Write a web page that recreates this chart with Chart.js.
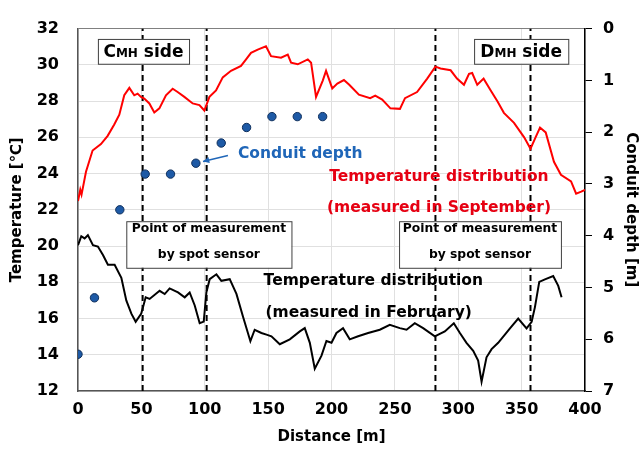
<!DOCTYPE html>
<html lang="en">
<head>
<meta charset="UTF-8">
<title>Temperature distribution along the conduit</title>
<script src="https://cdn.jsdelivr.net/npm/chart.js"></script>
<style>
  body { margin: 0; background: #fff; }
  #wrap { width: 640px; height: 450px; }
</style>
</head>
<body>
<div id="wrap"><canvas id="tempChart" width="640" height="450"></canvas></div>
<script>
// Temperature measured in September (red)
const septDist = [0, 1.8, 2.8, 6.3, 11.5, 18.1, 23.4, 28.6, 32.6, 36.5, 40.5, 44.4, 47, 49.7, 52.3, 56.3, 60.2, 64.2,
  69.4, 74.7, 78.6, 83.9, 90.5, 95.8, 99.7, 103.7, 108.9, 114.2, 120.7, 128.6, 132.6, 136.5, 141.8, 148.3, 152.3,
  160.2, 165.5, 168.1, 173.4, 181.3, 183.9, 187.8, 193.1, 195.7, 200.6, 204.6, 209.8, 214, 221.6, 230.5, 234.5, 240,
  246.5, 254, 258, 267.5, 275.5, 282, 286, 294, 299, 304.5, 308.5, 311, 315, 320, 325.5, 331, 336, 344, 352, 357, 361,
  364.5, 369, 375.5, 381, 389, 393, 397, 400];
const septTemp = [22.48, 23.11, 22.84, 24.1, 25.27, 25.63, 26.08, 26.71, 27.25, 28.32, 28.73, 28.32, 28.41, 28.23, 28.14, 27.87, 27.37, 27.6,
  28.32, 28.68, 28.5, 28.23, 27.87, 27.78, 27.48, 28.23, 28.59, 29.31, 29.67, 29.94, 30.3, 30.66, 30.84, 31.02, 30.48,
  30.39, 30.57, 30.12, 30.03, 30.3, 30.12, 28.23, 29.13, 29.67, 28.7, 28.97, 29.16, 28.9, 28.35, 28.16, 28.3, 28.08,
  27.6, 27.57, 28.16, 28.5, 29.24, 29.9, 29.8, 29.7, 29.24, 28.9, 29.5, 29.55, 28.9, 29.24, 28.6, 27.98, 27.35, 26.8, 26.0, 25.37, 26.0,
  26.54, 26.27, 24.65, 23.93, 23.57, 22.89, 23.0, 23.1];

// Temperature measured in February (black)
const febDist = [0, 2.6, 5.2, 7.8, 11.8, 15.7, 19.7, 23.6, 28.9, 34.2, 38.1, 42.1, 45.5, 49.9, 53.4, 56.5, 64.4, 68.4, 72.3,
  78.9, 84.2, 88.1, 92.1, 96, 99.2, 101.3, 103.9, 109.2, 113.1, 119.7, 125, 130.2, 136, 139.4, 144.7, 148.7, 152.6,
  159.2, 167.1, 175, 178.9, 182.9, 186.8, 192.1, 196, 200, 203.9, 209.1, 214.4, 221, 228.9, 238.1, 246, 253.9, 259.2,
  265.7, 272.3, 281.5, 289.4, 296.5, 301.3, 306.5, 311.8, 315.7, 318.4, 322.3, 326.3, 331.5, 340.8, 347.3, 353.9,
  357.9, 360.5, 363.9, 368.4, 374.9, 378.9, 381.5];
const febTemp = [20.05, 20.54, 20.42, 20.6, 20.05, 19.97, 19.5, 18.97, 18.97, 18.25, 17.0, 16.27, 15.82, 16.27, 17.17, 17.08, 17.53, 17.35, 17.66,
  17.44, 17.17, 17.44, 16.72, 15.74, 15.83, 17.45, 18.17, 18.44, 18.08, 18.17, 17.36, 16.1, 14.75, 15.38, 15.2, 15.11, 15.02,
  14.58, 14.85, 15.29, 15.47, 14.66, 13.23, 13.95, 14.76, 14.66, 15.2, 15.47, 14.85, 15.02, 15.2, 15.38, 15.65, 15.47, 15.38,
  15.74, 15.47, 15.02, 15.29, 15.74, 15.2, 14.66, 14.22, 13.68, 12.51, 13.86, 14.31, 14.66, 15.46, 16.0, 15.46,
  15.82, 16.63, 18.02, 18.16, 18.34, 17.8, 17.17];

// Conduit depth (blue dots, right axis)
const depthDist = [0, 13, 33, 53, 73, 93, 113, 133, 153, 173, 193];
const depthValue = [6.29, 5.2, 3.5, 2.81, 2.81, 2.6, 2.21, 1.91, 1.7, 1.7, 1.7];

// Spot sensor positions (dashed lines)
const spotSensorDist = [51, 101.5, 282, 357];

const FONT = '"DejaVu Sans", Verdana, sans-serif';

function toPoints(xs, ys) {
    return xs.map((x, i) => ({ x: x, y: ys[i] }));
}

const datasets = [
    {
        label: 'Conduit depth',
        data: toPoints(depthDist, depthValue),
        yAxisID: 'y2',
        showLine: false,
        pointRadius: 4.2,
        pointBackgroundColor: '#1e5aa6',
        pointBorderColor: '#0f2f5c',
        pointBorderWidth: 1,
        order: 0
    },
    {
        label: 'September',
        data: toPoints(septDist, septTemp),
        yAxisID: 'y',
        borderColor: '#ff0000',
        borderWidth: 2,
        pointRadius: 0,
        tension: 0,
        order: 1
    },
    {
        label: 'February',
        data: toPoints(febDist, febTemp),
        yAxisID: 'y',
        borderColor: '#000000',
        borderWidth: 2,
        pointRadius: 0,
        tension: 0,
        order: 2
    }
];

spotSensorDist.forEach(d => {
    datasets.push({
        label: 'spot',
        data: [{ x: d, y: 12 }, { x: d, y: 32 }],
        yAxisID: 'y',
        borderColor: '#000000',
        borderWidth: 2,
        borderDash: [6, 4],
        pointRadius: 0,
        order: 3
    });
});

// text notes, placed in data coordinates (distance, temperature)
const notes = [
    { text: 'Temperature distribution', x: 284.7, y: 23.83, color: '#e60012' },
    { text: '(measured in September)', x: 284.8, y: 22.12, color: '#e60012' },
    { text: 'Temperature distribution', x: 233, y: 18.08, color: '#000000' },
    { text: '(measured in February)', x: 229.3, y: 16.33, color: '#000000' }
];

const spotBoxes = [
    { x0: 38.1, x1: 168.4 },
    { x0: 253.3, x1: 381 }
];
const sideBoxes = [
    { big: 'D', small: 'MH', x0: 312.5, x1: 386.8 },
    { big: 'C', small: 'MH', x0: 15.7, x1: 87.6 }
];

const notesPlugin = {
    id: 'notes',
    afterDatasetsDraw(chart) {
        const ctx = chart.ctx;
        const xs = chart.scales.x;
        const ys = chart.scales.y;
        ctx.save();

        // "Cmh side" / "Dmh side" boxes
        sideBoxes.forEach(b => {
            const left = xs.getPixelForValue(b.x0);
            const right = xs.getPixelForValue(b.x1);
            const top = ys.getPixelForValue(31.43);
            const bottom = ys.getPixelForValue(30.06);
            ctx.fillStyle = '#fff';
            ctx.fillRect(left, top, right - left, bottom - top);
            ctx.strokeStyle = '#404040';
            ctx.lineWidth = 1;
            ctx.strokeRect(left + 0.5, top + 0.5, right - left, bottom - top);

            const bigFont = 'bold 17px ' + FONT;
            const smallFont = 'bold 12px ' + FONT;
            ctx.font = bigFont;
            const w1 = ctx.measureText(b.big).width;
            const w3 = ctx.measureText(' side').width;
            ctx.font = smallFont;
            const w2 = ctx.measureText(b.small).width;
            let x = (left + right) / 2 - (w1 + w2 + w3) / 2;
            const base = (top + bottom) / 2 + 6;
            ctx.fillStyle = '#000';
            ctx.textAlign = 'left';
            ctx.textBaseline = 'alphabetic';
            ctx.font = bigFont;
            ctx.fillText(b.big, x, base);
            x += w1;
            ctx.font = smallFont;
            ctx.fillText(b.small, x, base);
            x += w2;
            ctx.font = bigFont;
            ctx.fillText(' side', x, base);
        });

        // "Point of measurement by spot sensor" boxes
        spotBoxes.forEach(b => {
            const left = xs.getPixelForValue(b.x0);
            const right = xs.getPixelForValue(b.x1);
            const top = ys.getPixelForValue(21.37);
            const bottom = ys.getPixelForValue(18.8);
            ctx.fillStyle = '#fff';
            ctx.fillRect(left, top, right - left, bottom - top);
            ctx.strokeStyle = '#404040';
            ctx.lineWidth = 1;
            ctx.strokeRect(left + 0.5, top + 0.5, right - left, bottom - top);
            ctx.fillStyle = '#000';
            ctx.font = 'bold 12.3px ' + FONT;
            ctx.textAlign = 'center';
            ctx.textBaseline = 'middle';
            const cx = (left + right) / 2;
            ctx.fillText('Point of measurement', cx, top + 8);
            ctx.fillText('by spot sensor', cx, top + 34);
        });

        // red / black labels
        ctx.font = 'bold 15.5px ' + FONT;
        ctx.textAlign = 'center';
        ctx.textBaseline = 'middle';
        notes.forEach(n => {
            ctx.fillStyle = n.color;
            ctx.fillText(n.text, xs.getPixelForValue(n.x), ys.getPixelForValue(n.y));
        });

        // "Conduit depth" label with arrow
        ctx.fillStyle = '#1f66b8';
        ctx.textAlign = 'left';
        ctx.fillText('Conduit depth', xs.getPixelForValue(126.2), ys.getPixelForValue(25.09));
        const ax0 = xs.getPixelForValue(118.3), ay0 = ys.getPixelForValue(25.0);
        const ax1 = xs.getPixelForValue(98.6), ay1 = ys.getPixelForValue(24.67);
        ctx.strokeStyle = '#1f66b8';
        ctx.lineWidth = 1.5;
        ctx.beginPath();
        ctx.moveTo(ax0, ay0);
        ctx.lineTo(ax1, ay1);
        ctx.stroke();
        const ang = Math.atan2(ay1 - ay0, ax1 - ax0);
        ctx.beginPath();
        ctx.moveTo(ax1, ay1);
        ctx.lineTo(ax1 - 7 * Math.cos(ang - 0.45), ay1 - 7 * Math.sin(ang - 0.45));
        ctx.lineTo(ax1 - 7 * Math.cos(ang + 0.45), ay1 - 7 * Math.sin(ang + 0.45));
        ctx.closePath();
        ctx.fillStyle = '#1f66b8';
        ctx.fill();

        ctx.restore();
    }
};

const tickFont = { family: FONT, size: 16, weight: 'bold' };
const titleFont = { family: FONT, size: 15, weight: 'bold' };

new Chart(document.getElementById('tempChart').getContext('2d'), {
    type: 'line',
    data: { datasets: datasets },
    options: {
        responsive: false,
        animation: false,
        layout: { padding: { top: 20, left: 0, right: 0, bottom: 0 } },
        plugins: {
            legend: { display: false },
            tooltip: { enabled: false }
        },
        scales: {
            x: {
                type: 'linear',
                min: 0,
                max: 400,
                ticks: { stepSize: 50, color: '#000', font: tickFont, padding: 9, maxRotation: 0 },
                grid: { color: '#e0e0e0', drawTicks: false },
                border: { color: '#555', width: 1.5 },
                title: { display: true, text: 'Distance [m]', color: '#000', font: titleFont, padding: { top: 4, bottom: 4 } },
                afterFit: scale => { scale.height = 59; }
            },
            y: {
                position: 'left',
                min: 12,
                max: 32,
                ticks: { stepSize: 2, color: '#000', font: tickFont, padding: 19 },
                grid: {
                    drawTicks: false,
                    color: c => (c.tick && c.tick.value === 32) ? '#808080' : '#e0e0e0'
                },
                border: { color: '#555', width: 1.5 },
                title: { display: true, text: 'Temperature [℃]', color: '#000', font: titleFont, padding: { top: 8, bottom: 4 } },
                afterFit: scale => { scale.width = 78; }
            },
            y2: {
                position: 'right',
                min: 0,
                max: 7,
                reverse: true,
                ticks: { stepSize: 1, color: '#000', font: tickFont, padding: 11 },
                grid: { drawOnChartArea: false, drawTicks: true, tickLength: 7, color: '#000' },
                border: { color: '#000', width: 1.5 },
                title: { display: true, text: 'Conduit depth [m]', color: '#000', font: titleFont, padding: { top: 0, bottom: 0 } },
                afterFit: scale => { scale.width = 55; }
            }
        }
    },
    plugins: [notesPlugin]
});
</script>
</body>
</html>
